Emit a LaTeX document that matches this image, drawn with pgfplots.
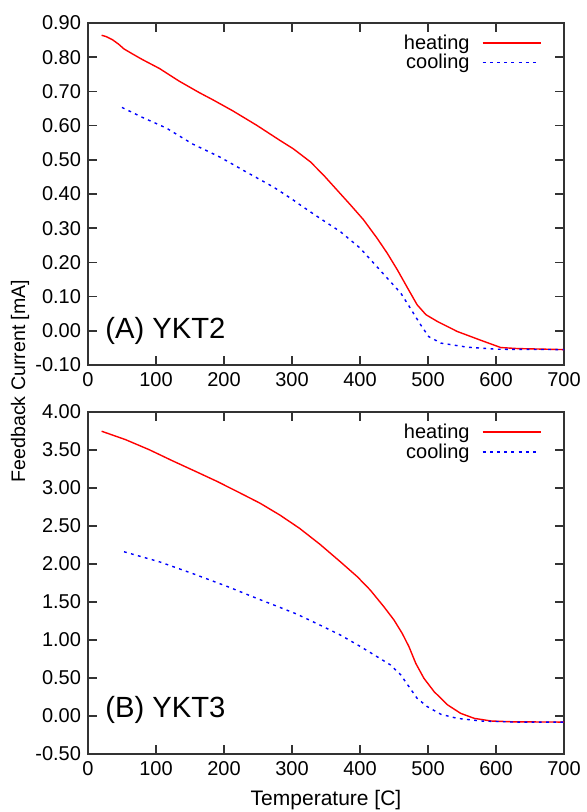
\documentclass[border=0pt]{standalone}
\usepackage{pgfplots}
\pgfplotsset{compat=1.18}
\usepackage{fontspec}
\setmainfont{Liberation Sans}
\newcommand{\heatkey}{{\color{red}\rule[2.8pt]{29pt}{0.75pt}}}
\newcommand{\dsh}{\rule[2.75pt]{1.5pt}{0.9pt}\hspace{2.1pt}}
\newcommand{\coolkey}{{\color{blue}\dsh\dsh\dsh\dsh\dsh\dsh\dsh\rule[2.75pt]{1.5pt}{0.9pt}}}
\newcommand{\keybox}{\begin{tabular}{@{}r@{\hspace{6.5pt}}l@{}}heating & \heatkey\\[-2.2pt] cooling & \coolkey\end{tabular}}
\begin{document}
\fontsize{10}{12}\selectfont
\begin{tikzpicture}
\path[use as bounding box] (0,0) rectangle (293pt,406pt);
\pgfplotsset{
  every axis/.append style={
    scale only axis, width=238pt, height=171pt,
    xmin=0, xmax=700, xtick={0,100,...,700},
    axis line style={line width=0.8pt, black!80},
    tick style={line width=0.8pt, black!80},
    major tick length=4.5pt,
    tick align=inside,
    /pgf/number format/assume math mode=true,
    yticklabel style={/pgf/number format/.cd, fixed, fixed zerofill, precision=2},
    xticklabel style={/pgf/number format/.cd, fixed, precision=0},
  },
}
\begin{axis}[at={(44pt,223.5pt)}, anchor=south west,
  ymin=-0.1, ymax=0.9, ytick={-0.1,0,...,0.9}]
\addplot[color=red, line width=0.7pt] coordinates {(20,0.864)(27,0.860)(36,0.851)(45,0.838)(53,0.824)(65,0.810)(80,0.793)(105,0.767)(134,0.730)(164,0.696)(184,0.675)(213,0.643)(248,0.601)(282,0.557)(302,0.532)(327,0.494)(346,0.456)(366,0.412)(386,0.368)(405,0.325)(425,0.271)(440,0.227)(455,0.178)(470,0.125)(484,0.076)(497,0.047)(514,0.027)(543,-0.002)(578,-0.028)(607,-0.049)(632,-0.052)(700,-0.055)};
\addplot[color=blue, line width=0.7pt, dash pattern=on 1.4pt off 2.2pt] coordinates {(50,0.653)(80,0.624)(115,0.593)(154,0.546)(194,0.508)(233,0.464)(273,0.420)(300,0.385)(312,0.368)(341,0.329)(371,0.290)(400,0.242)(420,0.198)(440,0.154)(460,0.110)(474,0.066)(489,0.018)(501,-0.017)(519,-0.036)(558,-0.048)(602,-0.054)(700,-0.055)};
\node[anchor=north east, inner sep=0pt, xshift=-11.5pt, yshift=-4.6pt] at (rel axis cs:1,1) {\keybox};
\node[anchor=west, inner sep=0pt, font=\fontsize{14.6}{16}\selectfont] at (axis cs:25,0.0) {(A) YKT2};
\end{axis}
\begin{axis}[at={(44pt,29pt)}, anchor=south west,
  ymin=-0.5, ymax=4, ytick={-0.5,0,...,4},
  xlabel={Temperature [C]},
  xlabel style={at={(axis description cs:0.5,-0.135)}, anchor=center, font=\fontsize{10.5}{12}\selectfont}]
\addplot[color=red, line width=0.7pt] coordinates {(20,3.747)(55,3.637)(90,3.504)(124,3.359)(159,3.215)(189,3.09)(218,2.96)(253,2.80)(282,2.645)(311,2.47)(341,2.26)(371,2.03)(396,1.833)(415,1.658)(435,1.439)(450,1.263)(462,1.088)(472,0.912)(482,0.693)(494,0.496)(509,0.32)(529,0.145)(548,0.035)(568,-0.031)(593,-0.066)(627,-0.077)(700,-0.08)};
\addplot[color=blue, line width=0.7pt, dash pattern=on 1.4pt off 2.2pt] coordinates {(53,2.161)(105,2.029)(154,1.874)(204,1.707)(253,1.531)(282,1.43)(307,1.341)(341,1.197)(371,1.066)(401,0.912)(425,0.781)(445,0.671)(460,0.54)(472,0.386)(484,0.232)(499,0.123)(519,0.022)(543,-0.031)(578,-0.066)(627,-0.08)(700,-0.08)};
\node[anchor=north east, inner sep=0pt, xshift=-11.5pt, yshift=-4.6pt] at (rel axis cs:1,1) {\keybox};
\node[anchor=west, inner sep=0pt, font=\fontsize{14.6}{16}\selectfont] at (axis cs:25,0.08) {(B) YKT3};
\end{axis}
\node[rotate=90, font=\fontsize{9.8}{12}\selectfont] at (10pt,215.5pt) {Feedback Current [mA]};
\end{tikzpicture}
\end{document}
